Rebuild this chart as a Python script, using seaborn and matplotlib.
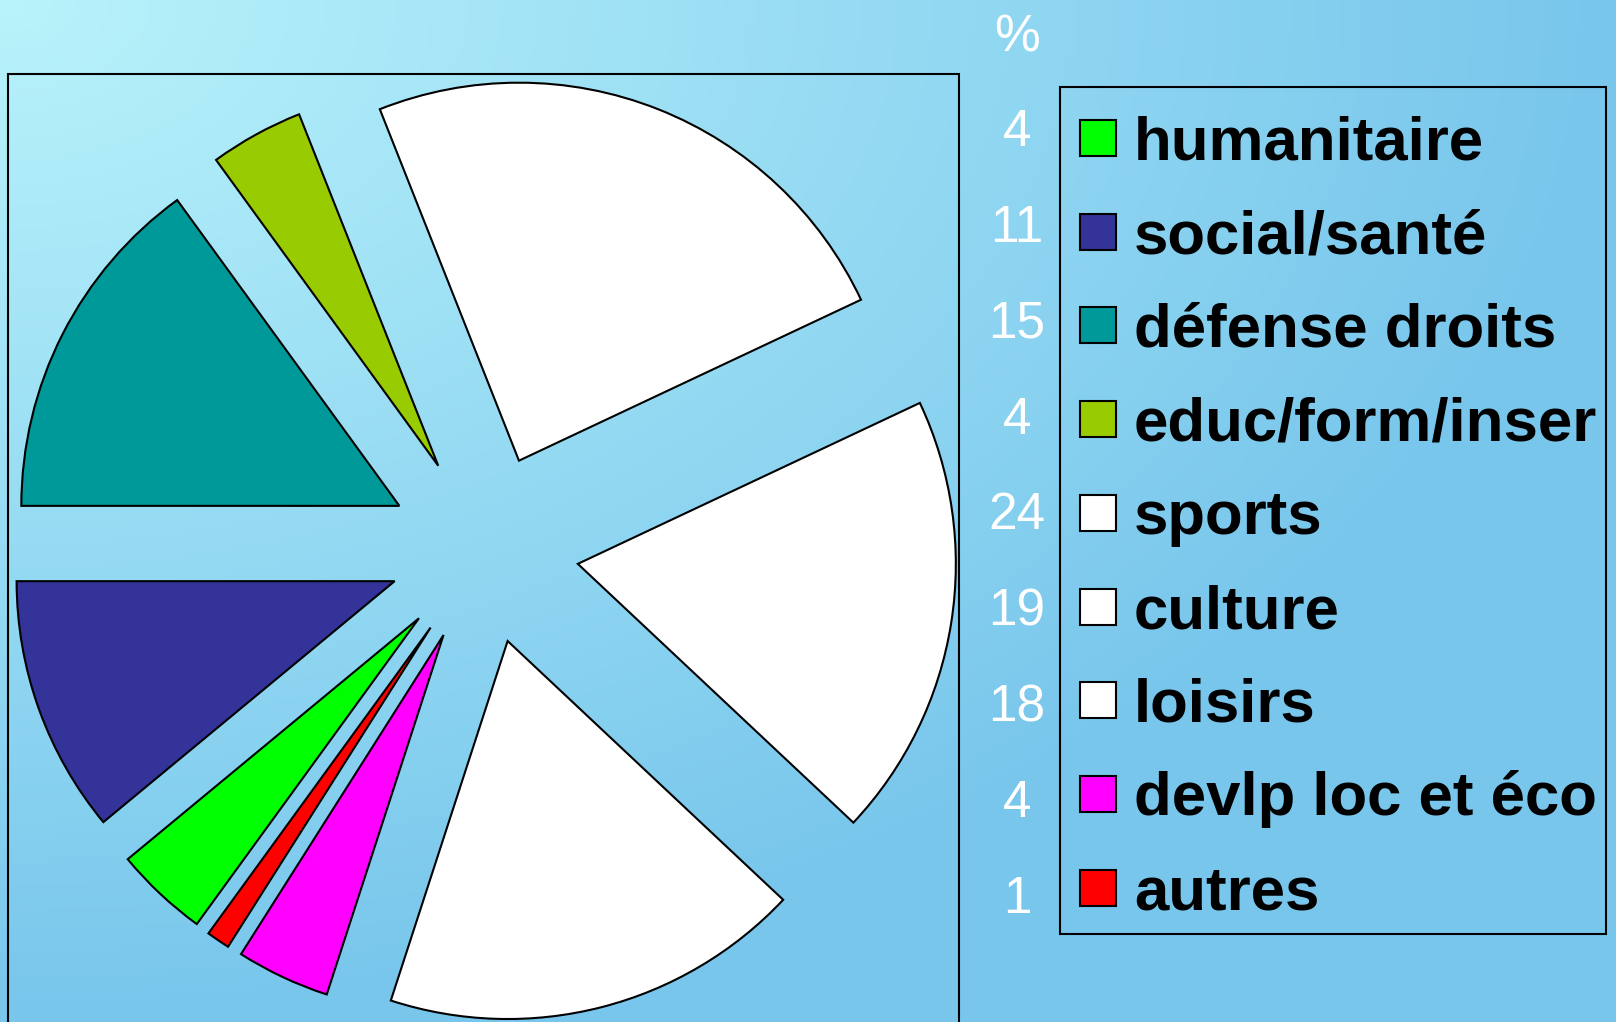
import numpy as np
import matplotlib
matplotlib.use("Agg")
import matplotlib.pyplot as plt
from matplotlib.patches import Rectangle
import seaborn as sns

categories = ["humanitaire", "social/santé", "défense droits", "educ/form/inser",
              "sports", "culture", "loisirs", "devlp loc et éco", "autres"]
percents = [4, 11, 15, 4, 24, 19, 18, 4, 1]
colors = ["#00FF00", "#333399", "#009999", "#99CC00",
          "#FFFFFF", "#FFFFFF", "#FFFFFF", "#FF00FF", "#FF0000"]

sns.set_style("white")
plt.rcParams['font.family'] = ['Liberation Sans', 'DejaVu Sans']

W, H = 1616, 1022
fig = plt.figure(figsize=(W / 100, H / 100), dpi=100)
ax = fig.add_axes([0, 0, 1, 1])

# background gradient, light cyan top-left -> blue
xx, yy = np.meshgrid(np.linspace(0, 1, 400), np.linspace(0, 1, 260))
t = np.clip(np.hypot(xx, yy * 1.0), 0, 1)
c0 = np.array([185, 243, 251]) / 255
c1 = np.array([120, 198, 236]) / 255
grad = c0[None, None, :] * (1 - t[..., None]) + c1[None, None, :] * t[..., None]
ax.imshow(grad, extent=(0, W, 0, H), origin="upper", aspect="auto", zorder=0)

# plot area frame
ax.add_patch(Rectangle((8, -20), 950.5, (H - 74) + 20, fill=False,
                       edgecolor="black", linewidth=1.5, zorder=1))

# explode is in data units here (pixels)
ax.pie(percents, colors=colors, startangle=234, counterclock=False,
       explode=[95] * len(percents), center=(484, H - 549), radius=378,
       wedgeprops=dict(edgecolor="black", linewidth=1.5, zorder=2),
       frame=True)

# percent column
ax.text(1017, H - 51, "%", color="white", fontsize=37, ha="center", va="baseline")
for i, p in enumerate(percents):
    ax.text(1017, H - (146 + i * 95.85), str(p), color="white", fontsize=37,
            ha="center", va="baseline")

# legend
ax.add_patch(Rectangle((1059.5, H - 933.7), 546, 847, fill=False,
                       edgecolor="black", linewidth=1.5, zorder=3))
for i, (lab, col) in enumerate(zip(categories, colors)):
    yc = 138 + i * 93.7
    ax.add_patch(Rectangle((1080, H - yc - 18), 36, 36, facecolor=col,
                           edgecolor="black", linewidth=1.5, zorder=4))
    ax.text(1134, H - (yc + 21.5), lab, color="black", fontsize=44.5,
            fontweight="bold", ha="left", va="baseline", zorder=4)

ax.set_xlim(0, W)
ax.set_ylim(0, H)
ax.set_aspect("equal")
ax.axis("off")

fig.savefig("out.png", dpi=100)
